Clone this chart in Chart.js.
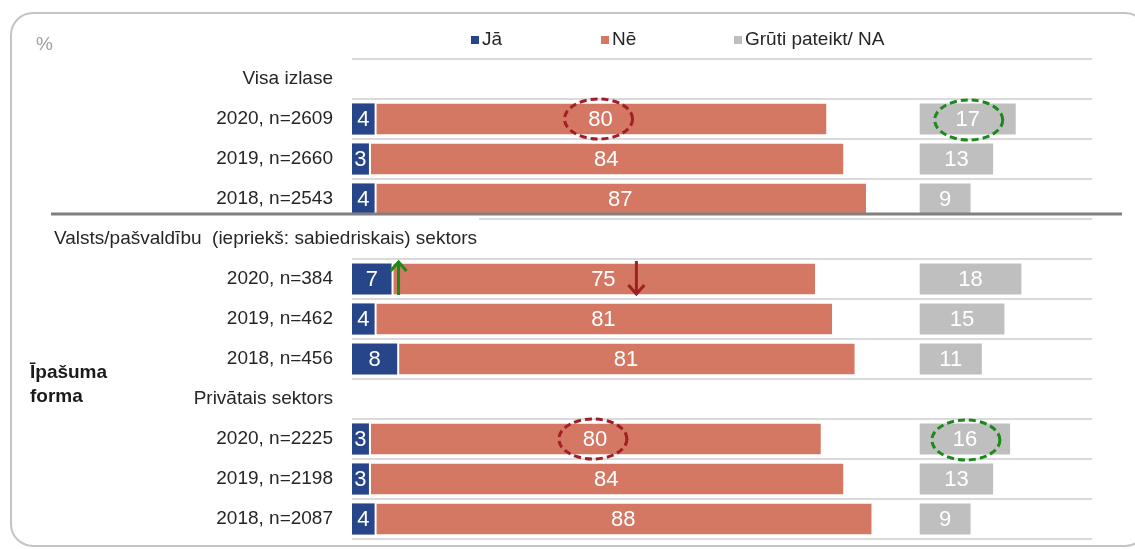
<!DOCTYPE html>
<html>
<head>
<meta charset="utf-8">
<script src="https://cdn.jsdelivr.net/npm/chart.js@4"></script>
<style>
  html, body { margin: 0; padding: 0; background: #ffffff; }
  #wrap { width: 1135px; height: 549px; position: relative; }
</style>
</head>
<body>
<div id="wrap"><canvas id="c" width="1135" height="549"></canvas></div>
<script>
// ---- data ----
const rowLabels = [
  'Visa izlase', '2020, n=2609', '2019, n=2660', '2018, n=2543',
  'Valsts/pašvaldību  (iepriekš: sabiedriskais) sektors', '2020, n=384', '2019, n=462', '2018, n=456',
  'Privātais sektors', '2020, n=2225', '2019, n=2198', '2018, n=2087'
];
const headerRows = [0, 4, 8];
const jaValues   = [null, 4, 3, 4, null, 7, 4, 8, null, 3, 3, 4];
const neValues   = [null, 80, 84, 87, null, 75, 81, 81, null, 80, 84, 88];
const grutiValues = [null, 17, 13, 9, null, 18, 15, 11, null, 16, 13, 9];
const seriesNames = ['Jā', 'Nē', 'Grūti pateikt/ NA'];
const groupTitle = ['Īpašuma', 'forma'];
const unitLabel = '%';
// highlighted (circled) values and change arrows
const circledNeRows = [1, 9];
const circledGrutiRows = [1, 9];
const arrowUpJaRows = [5];
const arrowDownNeRows = [5];

// ---- style ----
const COLORS = ['#27468A', '#D47864', '#BFBFBF'];
const FONT = "'Liberation Sans', Arial, sans-serif";
const GREY_START = 100.5; // start of the separate "Grūti pateikt" column on the value axis

const jaData = jaValues.map(v => v == null ? null : [0, v]);
const neData = neValues.map((v, i) => v == null ? null : [jaValues[i], jaValues[i] + v]);
const grData = grutiValues.map(v => v == null ? null : [GREY_START, GREY_START + v]);

const decorPlugin = {
  id: 'decor',
  beforeDraw(chart) {
    const ctx = chart.ctx;
    ctx.save();
    // rounded frame
    ctx.strokeStyle = '#C4C4C4';
    ctx.lineWidth = 2;
    ctx.beginPath();
    ctx.roundRect(11, 13, 1136, 533, 22);
    ctx.stroke();
    ctx.restore();
  },
  afterDatasetsDraw(chart) {
    const ctx = chart.ctx;
    const yScale = chart.scales.y;
    ctx.save();
    // values inside bars
    ctx.fillStyle = '#FFFFFF';
    ctx.font = '22px ' + FONT;
    ctx.textAlign = 'center';
    ctx.textBaseline = 'middle';
    const srcs = [jaValues, neValues, grutiValues];
    chart.data.datasets.forEach((ds, di) => {
      const meta = chart.getDatasetMeta(di);
      meta.data.forEach((el, i) => {
        const v = srcs[di][i];
        if (v == null) return;
        ctx.fillText(String(v), (el.x + el.base) / 2, el.y + 1);
      });
    });

    // dark separator under first group
    const sepY = (yScale.getPixelForValue(3) + yScale.getPixelForValue(4)) / 2 - 5;
    ctx.strokeStyle = '#808080';
    ctx.lineWidth = 3;
    ctx.beginPath();
    ctx.moveTo(51, sepY);
    ctx.lineTo(1122, sepY);
    ctx.stroke();

    // circled values
    ctx.lineWidth = 3;
    ctx.setLineDash([7, 4]);
    const ellipse = (cx, cy, color) => {
      ctx.strokeStyle = color;
      ctx.beginPath();
      ctx.ellipse(cx, cy, 34, 20, 0, 0, Math.PI * 2);
      ctx.stroke();
    };
    const neMeta = chart.getDatasetMeta(1);
    circledNeRows.forEach(i => {
      const el = neMeta.data[i];
      ellipse((el.x + el.base) / 2 - 2, el.y, '#9E1F24');
    });
    const grMeta = chart.getDatasetMeta(2);
    circledGrutiRows.forEach(i => {
      const el = grMeta.data[i];
      ellipse((el.x + el.base) / 2 + 1, el.y + 1, '#1A8A1A');
    });
    ctx.setLineDash([]);

    // arrows
    const arrow = (x, yTop, yBot, up, color) => {
      ctx.strokeStyle = color;
      ctx.lineWidth = 3;
      ctx.beginPath();
      ctx.moveTo(x, yTop);
      ctx.lineTo(x, yBot);
      if (up) {
        ctx.moveTo(x - 8, yTop + 10);
        ctx.lineTo(x, yTop + 1);
        ctx.lineTo(x + 8, yTop + 10);
      } else {
        ctx.moveTo(x - 8, yBot - 10);
        ctx.lineTo(x, yBot - 1);
        ctx.lineTo(x + 8, yBot - 10);
      }
      ctx.stroke();
    };
    const jaMeta = chart.getDatasetMeta(0);
    arrowUpJaRows.forEach(i => {
      const el = jaMeta.data[i];
      arrow(el.x + 7, el.y - 18, el.y + 16, true, '#1A8A1A');
    });
    arrowDownNeRows.forEach(i => {
      const el = neMeta.data[i];
      arrow((el.x + el.base) / 2 + 33, el.y - 18, el.y + 16, false, '#9E1F24');
    });
    ctx.restore();
  },
  afterDraw(chart) {
    const ctx = chart.ctx;
    const yScale = chart.scales.y;
    const left = chart.chartArea.left;
    ctx.save();
    ctx.textBaseline = 'middle';
    // row labels
    ctx.font = '19px ' + FONT;
    rowLabels.forEach((lab, i) => {
      const y = yScale.getPixelForValue(i);
      if (i === 4) {
        const w = ctx.measureText(lab).width;
        ctx.fillStyle = '#FFFFFF';
        ctx.fillRect(left - 2, y - 22, 54 + w - left + 4, 20);
        ctx.fillStyle = '#262626';
        ctx.textAlign = 'left';
        ctx.fillText(lab, 54, y);
      } else {
        ctx.fillStyle = '#262626';
        ctx.textAlign = 'right';
        ctx.fillText(lab, 333, y);
      }
    });
    // group title
    ctx.font = 'bold 19px ' + FONT;
    ctx.textAlign = 'left';
    ctx.fillStyle = '#1A1A1A';
    ctx.fillText(groupTitle[0], 30, 373);
    ctx.fillText(groupTitle[1], 30, 397);
    // unit
    ctx.font = '19px ' + FONT;
    ctx.fillStyle = '#A0A0A0';
    ctx.fillText(unitLabel, 36, 45);
    // legend
    const legendX = [471, 601, 734];
    ctx.font = '19px ' + FONT;
    seriesNames.forEach((name, i) => {
      ctx.fillStyle = COLORS[i];
      ctx.fillRect(legendX[i], 36, 8, 8);
      ctx.fillStyle = '#262626';
      ctx.fillText(name, legendX[i] + 11, 40);
    });
    ctx.restore();
  }
};

new Chart(document.getElementById('c'), {
  type: 'bar',
  data: {
    labels: rowLabels,
    datasets: [
      { label: seriesNames[0], data: jaData, backgroundColor: COLORS[0], borderWidth: 0 },
      { label: seriesNames[1], data: neData, backgroundColor: COLORS[1], borderColor: '#FFFFFF', borderWidth: { left: 2, right: 0, top: 0, bottom: 0 }, borderSkipped: false },
      { label: seriesNames[2], data: grData, backgroundColor: COLORS[2], borderWidth: 0 }
    ]
  },
  options: {
    indexAxis: 'y',
    responsive: false,
    animation: false,
    devicePixelRatio: 1,
    categoryPercentage: 1,
    barPercentage: 0.78,
    layout: { padding: { left: 352, top: 59, right: 43, bottom: 10 } },
    plugins: { legend: { display: false }, tooltip: { enabled: false } },
    scales: {
      x: { display: false, min: 0, max: 131, stacked: false },
      y: {
        stacked: true,
        ticks: { display: false },
        border: { display: false },
        grid: { color: '#DADADA', lineWidth: 2, drawTicks: false, offset: true }
      }
    }
  },
  plugins: [decorPlugin]
});
</script>
</body>
</html>
